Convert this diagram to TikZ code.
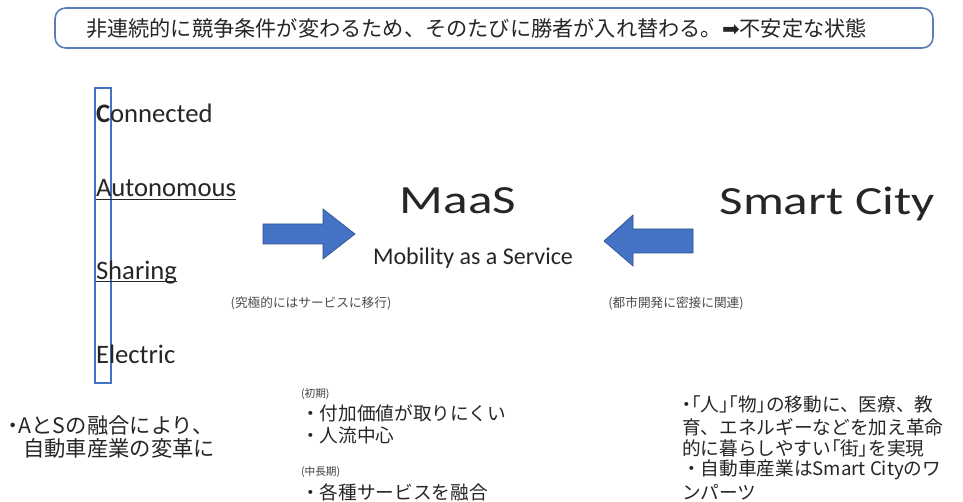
\documentclass[tikz,border=0pt]{standalone}
\usepackage{fontspec}
\setmainfont{Carlito}
\newfontfamily\jp{Noto Sans CJK JP}
\newfontfamily\jpp[RawFeature=+palt]{Noto Sans CJK JP}
\newfontfamily\dv{DejaVu Sans}
\newfontfamily\latw[FakeStretch=1.28]{Carlito}
\definecolor{txt}{HTML}{262626}
\definecolor{boxblue}{HTML}{4472C4}
\definecolor{boxedge}{HTML}{2F528F}
\definecolor{frame}{HTML}{5A7DB8}
\tikzset{
  every node/.style={inner sep=0pt, outer sep=0pt, text=txt},
  topline/.style={font=\jp\fontsize{15.9}{18}\selectfont, anchor=west},
  casetext/.style={font=\fontsize{20}{24}\selectfont, anchor=base west},
  bigtitle/.style={font=\latw\fontsize{30}{34}\selectfont, anchor=base},
  subtitle/.style={font=\fontsize{18}{22}\selectfont, anchor=base},
  smallnote/.style={font=\jp\fontsize{9.5}{11}\selectfont, text=black!70, anchor=center},
  bodyjp/.style={font=\jp\fontsize{14}{16.5}\selectfont, anchor=west},
  leftjp/.style={font=\jp\fontsize{16}{18}\selectfont, anchor=west},
  tinyjp/.style={font=\jp\fontsize{8}{10}\selectfont, anchor=west, text=black!75},
  bigarrow/.style={fill=boxblue, draw=boxedge, line width=0.5pt},
  uline/.style={draw=txt, line width=0.8pt}
}
\begin{document}
\begin{tikzpicture}[x=0.75pt,y=-0.75pt]
\useasboundingbox (0,0) rectangle (963,502);
\fill[white] (0,0) rectangle (963,502);

% top box
\draw[frame, line width=1.2pt, rounded corners=8pt] (55,8) rectangle (933,48);
\node[topline] (top) at (86,29) {非連続的に競争条件が変わるため、そのたびに勝者が入れ替わる。{\dv ➡}不安定な状態};

% CASE frame
\draw[boxblue, line width=1.2pt] (95,88) rectangle (111,383);
\node[casetext] (conn) at (96,123) {\textbf{C}onnected};
\node[casetext] (auto) at (96,197) {Autonomous};
\draw[uline] ([yshift=-1.6pt]auto.base west) -- ([yshift=-1.6pt]auto.base east);
\node[casetext] (shar) at (96,279) {Sharing};
\draw[uline] ([yshift=-1.6pt]shar.base west) -- ([yshift=-1.6pt]shar.base east);
\node[casetext] (elec) at (96,363) {Electric};

% titles
\node[bigtitle] (maas) at (458,214) {MaaS};
\node[subtitle] (mob) at (473,265) {Mobility as a Service};
\node[bigtitle] (city) at (827,215) {Smart City};

% arrows
\filldraw[bigarrow] (263,224) -- (323,224) -- (323,209) -- (355,234) -- (323,259) -- (323,244) -- (263,244) -- cycle;
\filldraw[bigarrow] (693,229) -- (633,229) -- (633,215) -- (604,241) -- (633,266) -- (633,253) -- (693,253) -- cycle;

% small notes
\node[smallnote] (n1) at (311,303) {(究極的にはサービスに移行)};
\node[smallnote] (n2) at (676,303) {(都市開発に密接に関連)};

% bottom left
\node[leftjp] (bl1) at (8,425) {{\jpp ・}AとSの融合により、};
\node[leftjp] (bl2) at (23,448) {自動車産業の変革に};

% bottom middle
\node[tinyjp] (m0) at (301,394) {(初期)};
\node[bodyjp] (m1) at (301,413) {・付加価値が取りにくい};
\node[bodyjp] (m2) at (301,435) {・人流中心};
\node[tinyjp] (m3) at (301,472) {(中長期)};
\node[bodyjp] (m4) at (301,492) {・各種サービスを融合};

% bottom right
\node[bodyjp] (r1) at (682,404) {{\jpp ・「}人{\jpp 」「}物{\jpp 」}の移動に、医療、教};
\node[bodyjp] (r2) at (682,427) {育、エネルギーなどを加え革命};
\node[bodyjp] (r3) at (682,448) {的に暮らしやすい{\jpp 「}街{\jpp 」}を実現};
\node[bodyjp] (r4) at (682,470) {・自動車産業はSmart Cityのワ};
\node[bodyjp] (r5) at (682,492) {ンパーツ};
\end{tikzpicture}
\end{document}
